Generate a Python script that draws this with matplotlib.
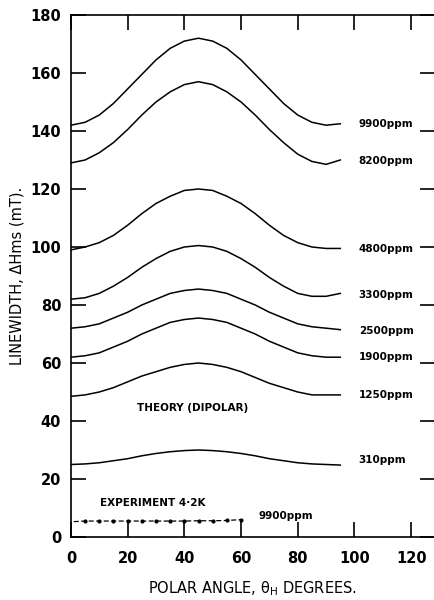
import numpy as np
import matplotlib.pyplot as plt

# polar angle (degrees) at which the curves were read
theta = [0, 5, 10, 15, 20, 25, 30, 35, 40, 45, 50, 55, 60, 65, 70, 75, 80, 85, 90, 95]

# linewidth (mT) for each concentration
lw_9900 = [142, 143, 145.5, 149.5, 154.5, 159.5, 164.5, 168.5, 171, 172, 171, 168.5, 164.5, 159.5, 154.5, 149.5, 145.5, 143, 142, 142.5]
lw_8200 = [129, 130, 132.5, 136, 140.5, 145.5, 150, 153.5, 156, 157, 156, 153.5, 150, 145.5, 140.5, 136, 132, 129.5, 128.5, 130]
lw_4800 = [99, 100, 101.5, 104, 107.5, 111.5, 115, 117.5, 119.5, 120, 119.5, 117.5, 115, 111.5, 107.5, 104, 101.5, 100, 99.5, 99.5]
lw_3300 = [82, 82.5, 84, 86.5, 89.5, 93, 96, 98.5, 100, 100.5, 100, 98.5, 96, 93, 89.5, 86.5, 84, 83, 83, 84]
lw_2500 = [72, 72.5, 73.5, 75.5, 77.5, 80, 82, 84, 85, 85.5, 85, 84, 82, 80, 77.5, 75.5, 73.5, 72.5, 72, 71.5]
lw_1900 = [62, 62.5, 63.5, 65.5, 67.5, 70, 72, 74, 75, 75.5, 75, 74, 72, 70, 67.5, 65.5, 63.5, 62.5, 62, 62]
lw_1250 = [48.5, 49, 50, 51.5, 53.5, 55.5, 57, 58.5, 59.5, 60, 59.5, 58.5, 57, 55, 53, 51.5, 50, 49, 49, 49]
lw_310 = [25, 25.2, 25.6, 26.3, 27, 28, 28.8, 29.4, 29.8, 30, 29.8, 29.4, 28.8, 28, 27, 26.3, 25.6, 25.2, 25, 24.8]

curves = [lw_9900, lw_8200, lw_4800, lw_3300, lw_2500, lw_1900, lw_1250, lw_310]
labels = ["9900ppm", "8200ppm", "4800ppm", "3300ppm", "2500ppm", "1900ppm", "1250ppm", "310ppm"]
label_y = [142.4, 129.7, 99.3, 83.4, 71, 62, 49, 26.5]

# experiment at 4.2 K (9900 ppm)
exp_theta = [1, 5, 10, 15, 20, 25, 30, 35, 40, 45, 50, 55, 60]
exp_lw = [5.3, 5.5, 5.5, 5.5, 5.5, 5.5, 5.5, 5.5, 5.5, 5.6, 5.6, 5.7, 6.0]

fig = plt.figure(figsize=(4.35, 6.0), dpi=100)
ax = fig.add_axes([0.163, 0.105, 0.837, 0.87])

for y in curves:
    ax.plot(theta, y, color="black", lw=1.1)
for lab, yy in zip(labels, label_y):
    ax.text(101.5, yy, lab, fontsize=7.5, va="center", ha="left", fontweight="semibold")

ax.plot(exp_theta, exp_lw, color="black", lw=0.9, ls=(0, (4, 2)))
ax.plot(exp_theta[1:], exp_lw[1:], ls="none", marker="o", ms=2, color="black")
ax.text(66, 7.2, "9900ppm", fontsize=7.5, va="center", ha="left", fontweight="semibold")

ax.text(23.3, 44.5, "THEORY (DIPOLAR)", fontsize=7.5, va="center", ha="left", fontweight="semibold")
ax.text(10.2, 11.7, "EXPERIMENT 4·2K", fontsize=7.5, va="center", ha="left", fontweight="semibold")

ax.set_xlim(0, 128.4)
ax.set_ylim(0, 180)
ax.set_xticks(range(0, 121, 20))
ax.set_yticks(range(0, 181, 20))
ax.tick_params(direction="in", length=11, width=1.2, labelsize=10.5,
               top=True, right=True)
ax.tick_params(axis="x", pad=10)
ax.tick_params(axis="y", pad=7)
for t in ax.get_xticklabels() + ax.get_yticklabels():
    t.set_fontweight("bold")
ax.spines["right"].set_visible(False)
for s in ["left", "bottom", "top"]:
    ax.spines[s].set_linewidth(1.2)

ax.set_ylabel("LINEWIDTH, ΔHms (mT).", fontsize=10.5, labelpad=4)
ax.set_xlabel("POLAR ANGLE, θ$_\\mathregular{H}$ DEGREES.", fontsize=10.5, labelpad=10)

fig.savefig("out.png", dpi=100)
